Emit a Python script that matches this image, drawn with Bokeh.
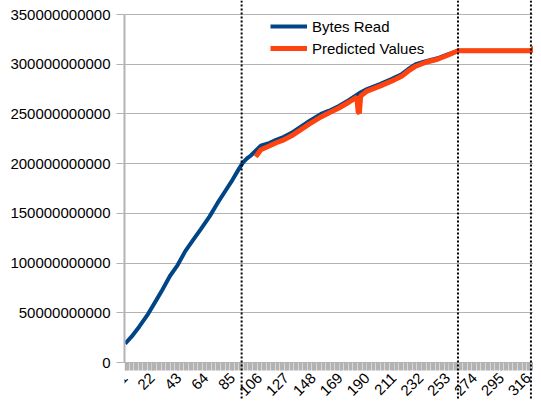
from bokeh.plotting import figure
from bokeh.models import Range1d, FixedTicker, Span, Legend, LegendItem, NumeralTickFormatter
from bokeh.embed import file_html
from bokeh.resources import INLINE

# ---- data ----
categories = list(range(1, 327))
x_tick_labels = [1, 22, 43, 64, 85, 106, 127, 148, 169, 190, 211, 232, 253, 274, 295, 316]
y_ticks = [0, 50e9, 100e9, 150e9, 200e9, 250e9, 300e9, 350e9]

bytes_x = [1, 6, 12, 19, 25, 30, 36, 42, 48, 54, 60, 67, 73, 79, 85, 90, 93, 96, 99, 103, 107,
           114, 119, 125, 131, 138, 145, 154, 160, 168, 176, 184, 190, 200, 209, 217, 222,
           228, 236, 245, 253, 261, 268, 287, 307, 318, 322, 326]
bytes_y_e9 = [19, 26, 36, 49, 62, 73, 87, 98, 112, 123, 134, 147, 160, 172, 184, 195, 201, 205,
              208, 213, 218, 221, 224, 227, 231, 237, 243, 250, 253, 258, 264, 271, 275, 280,
              285, 290, 295, 300, 303, 306, 310, 313.5, 313.5, 313.5, 313.5, 313.5, 318, 323]

pred_x = [103, 107, 114, 119, 125, 131, 138, 145, 154, 160, 168, 176, 182, 183, 184, 185, 190,
          200, 209, 217, 222, 228, 236, 245, 253, 261, 287, 318, 322, 326]
pred_y_e9 = [207, 214, 218, 221, 224, 228, 234, 240, 247, 251, 256, 262, 267, 252, 251, 268, 273,
             278, 283, 288, 293, 298, 302, 305, 309, 313.5, 313.5, 313.5, 318, 323]

marker_positions = [92, 261, 318]

bytes_y = [v * 1e9 for v in bytes_y_e9]
pred_y = [v * 1e9 for v in pred_y_e9]

FONT = "Liberation Sans"
GRAY = "#b3b3b3"
BLUE = "#004586"
ORANGE = "#ff420e"

p = figure(width=533, height=400, output_backend="svg", toolbar_location=None,
           x_range=Range1d(0.5, 320.0), y_range=Range1d(-38.2e9, 364.1e9),
           min_border=0, min_border_left=124)
p.outline_line_color = None
p.xgrid.visible = False

# y grid
p.ygrid.ticker = FixedTicker(ticks=y_ticks)
p.ygrid.grid_line_color = GRAY
p.ygrid.grid_line_width = 1

# y axis
ya = p.yaxis[0]
ya.ticker = FixedTicker(ticks=y_ticks)
ya.formatter = NumeralTickFormatter(format="0")
ya.bounds = (0, 350e9)
ya.axis_line_color = GRAY
ya.axis_line_width = 2
ya.major_tick_line_color = GRAY
ya.major_tick_out = 8
ya.major_tick_in = 0
ya.minor_tick_line_color = None
ya.major_label_standoff = 6
ya.major_label_text_font = FONT
ya.major_label_text_font_size = "15px"
ya.major_label_text_color = "#000000"

# x axis at y = 0
xa = p.xaxis[0]
xa.fixed_location = 0
xa.ticker = FixedTicker(ticks=x_tick_labels, minor_ticks=categories)
xa.axis_line_color = GRAY
xa.axis_line_width = 1
xa.major_tick_line_color = GRAY
xa.major_tick_line_width = 1.5
xa.major_tick_out = 8
xa.major_tick_in = 0
xa.minor_tick_line_color = GRAY
xa.minor_tick_line_width = 1.5
xa.minor_tick_out = 8
xa.minor_tick_in = 0
xa.major_label_orientation = 0.785398
xa.major_label_standoff = 5
xa.major_label_text_font = FONT
xa.major_label_text_font_size = "15px"
xa.major_label_text_color = "#000000"

for m in marker_positions:
    p.add_layout(Span(location=m, dimension="height", line_color="black",
                      line_dash="2 2", line_width=2))

r_bytes = p.line(bytes_x, bytes_y, line_color=BLUE, line_width=4)
r_pred = p.line(pred_x, pred_y, line_color=ORANGE, line_width=5)

legend = Legend(items=[LegendItem(label="Bytes Read", renderers=[r_bytes]),
                       LegendItem(label="Predicted Values", renderers=[r_pred])],
                location=(146, 342), border_line_color=None, background_fill_alpha=0,
                padding=0, margin=0, spacing=2, glyph_width=37, glyph_height=20,
                label_height=20, label_standoff=5, label_text_font=FONT,
                label_text_font_size="15px", label_text_color="#000000")
p.add_layout(legend)

open("out.html", "w").write(file_html(p, INLINE))
